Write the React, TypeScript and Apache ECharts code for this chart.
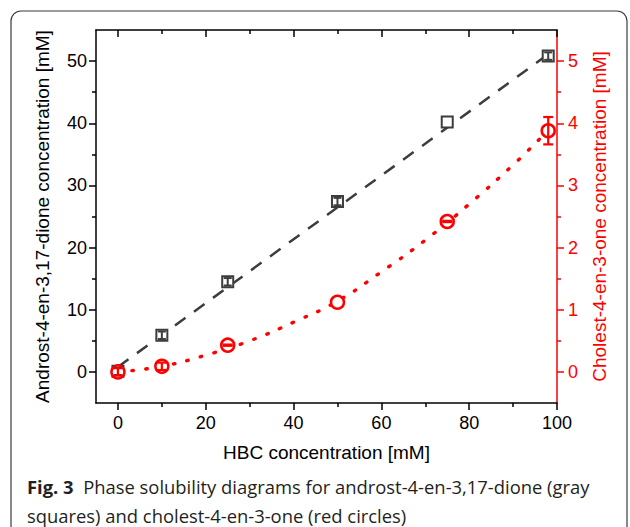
import React, { useEffect, useRef } from "react";
import * as echarts from "echarts";

// ---- data ----
const hbcConc = [0, 10, 25, 50, 75, 98];
const androstenedione = [0.1, 5.9, 14.5, 27.4, 40.2, 50.8];
const androstenedioneErr = [0.6, 0.6, 0.6, 0.6, 0, 0.6];
const cholestenone = [0.0, 0.09, 0.43, 1.12, 2.42, 3.88];
const cholestenoneErr = [0.06, 0.06, 0.01, 0, 0.01, 0.22];

const androFitX = [0, 98];
const androFitY = [0.8, 51.1];
const cholFitX = [0, 10, 20, 30, 40, 50, 60, 70, 80, 90, 96.5];
const cholFitY = [0, 0.09, 0.27, 0.5, 0.8, 1.14, 1.61, 2.12, 2.7, 3.33, 3.78];

const xMajorTicks = [0, 20, 40, 60, 80, 100];
const xMinorTicks = [10, 30, 50, 70, 90];
const yLeftMajorTicks = [0, 10, 20, 30, 40, 50];
const yLeftMinorTicks = [5, 15, 25, 35, 45];
const yRightMajorTicks = [0, 1, 2, 3, 4, 5];
const yRightMinorTicks = [0.5, 1.5, 2.5, 3.5, 4.5];

const RED = "#ff0000";
const GRAY = "#3d3d3d";
const SANS = "'Liberation Sans', Arial, sans-serif";
const CAPTION_FONT = "'Open Sans', 'Noto Sans', sans-serif";

export default function App() {
  const ref = useRef<HTMLDivElement>(null);

  useEffect(() => {
    if (!ref.current) return;
    const chart = echarts.init(ref.current, undefined, { renderer: "svg" });

    const tickAxisX = (position: string, values: number[], len: number, inside: boolean, showLine: boolean, color: string) => ({
      type: "value",
      position,
      min: -5,
      max: 100,
      axisLine: { show: showLine, onZero: false, lineStyle: { color, width: 1.5 } },
      axisTick: { show: true, inside, length: len, customValues: values, lineStyle: { color, width: 1.5 } },
      axisLabel: { show: false },
      splitLine: { show: false },
    });

    const tickAxisY = (position: string, min: number, max: number, values: number[], len: number, color: string, showLine: boolean) => ({
      type: "value",
      position,
      min,
      max,
      axisLine: { show: showLine, onZero: false, lineStyle: { color, width: 1.5 } },
      axisTick: { show: true, inside: false, length: len, customValues: values, lineStyle: { color, width: 1.5 } },
      axisLabel: { show: false },
      splitLine: { show: false },
    });

    const errorBar = (color: string, halfCap: number, lw: number) => (params: any, api: any) => {
      const x = api.value(0);
      const y = api.value(1);
      const e = api.value(2);
      if (!e) return null;
      const top = api.coord([x, y + e]);
      const bot = api.coord([x, y - e]);
      const style = { stroke: color, lineWidth: lw };
      return {
        type: "group",
        children: [
          { type: "line", shape: { x1: top[0], y1: top[1], x2: bot[0], y2: bot[1] }, style },
          { type: "line", shape: { x1: top[0] - halfCap, y1: top[1], x2: top[0] + halfCap, y2: top[1] }, style },
          { type: "line", shape: { x1: bot[0] - halfCap, y1: bot[1], x2: bot[0] + halfCap, y2: bot[1] }, style },
        ],
      };
    };

    const option: any = {
      animation: false,
      backgroundColor: "#ffffff",
      grid: { left: 96, right: 73, top: 30, bottom: 124, containLabel: false },
      xAxis: [
        {
          type: "value",
          position: "bottom",
          min: -5,
          max: 100,
          name: "HBC concentration [mM]",
          nameLocation: "middle",
          nameGap: 40,
          nameTextStyle: { color: "#000", fontSize: 19, fontFamily: SANS },
          axisLine: { show: true, onZero: false, lineStyle: { color: "#000", width: 1.5 } },
          axisTick: { show: true, inside: false, length: 7, customValues: xMajorTicks, lineStyle: { color: "#000", width: 1.5 } },
          axisLabel: { show: true, customValues: xMajorTicks, margin: 11, color: "#000", fontSize: 18, fontFamily: SANS },
          splitLine: { show: false },
        },
        tickAxisX("bottom", xMinorTicks, 4, false, false, "#000"),
        tickAxisX("top", xMajorTicks, 7, true, true, "#000"),
        tickAxisX("top", xMinorTicks, 4, true, false, "#000"),
      ],
      yAxis: [
        {
          type: "value",
          position: "left",
          min: -5,
          max: 55,
          name: "Androst-4-en-3,17-dione concentration [mM]",
          nameLocation: "middle",
          nameGap: 44,
          nameTextStyle: { color: "#000", fontSize: 19, fontFamily: SANS },
          axisLine: { show: true, onZero: false, lineStyle: { color: "#000", width: 1.5 } },
          axisTick: { show: true, inside: false, length: 7, customValues: yLeftMajorTicks, lineStyle: { color: "#000", width: 1.5 } },
          axisLabel: { show: true, customValues: yLeftMajorTicks, margin: 9, color: "#000", fontSize: 18, fontFamily: SANS },
          splitLine: { show: false },
        },
        tickAxisY("left", -5, 55, yLeftMinorTicks, 4, "#000", false),
        {
          type: "value",
          position: "right",
          min: -0.5,
          max: 5.5,
          name: "Cholest-4-en-3-one concentration [mM]",
          nameLocation: "middle",
          nameGap: 33,
          nameTextStyle: { color: RED, fontSize: 19, fontFamily: SANS },
          axisLine: { show: true, onZero: false, lineStyle: { color: RED, width: 1.5 } },
          axisTick: { show: true, inside: false, length: 7, customValues: yRightMajorTicks, lineStyle: { color: RED, width: 1.5 } },
          axisLabel: { show: true, customValues: yRightMajorTicks, margin: 11, color: RED, fontSize: 18, fontFamily: SANS },
          splitLine: { show: false },
        },
        tickAxisY("right", -0.5, 5.5, yRightMinorTicks, 4, RED, false),
      ],
      series: [
        {
          type: "line",
          xAxisIndex: 0,
          yAxisIndex: 0,
          data: androFitX.map((x, i) => [x, androFitY[i]]),
          showSymbol: false,
          symbol: "none",
          lineStyle: { color: GRAY, width: 2.5, type: [13, 10.5] },
          z: 2,
        },
        {
          type: "line",
          xAxisIndex: 0,
          yAxisIndex: 2,
          data: cholFitX.map((x, i) => [x, cholFitY[i]]),
          smooth: true,
          showSymbol: false,
          symbol: "none",
          lineStyle: { color: RED, width: 3.4, type: [1.5, 12.5], cap: "round" },
          z: 2,
        },
        {
          type: "scatter",
          xAxisIndex: 0,
          yAxisIndex: 0,
          data: hbcConc.map((x, i) => [x, androstenedione[i]]),
          symbol: "rect",
          symbolSize: 11,
          itemStyle: { color: "#ffffff", borderColor: GRAY, borderWidth: 2, opacity: 1 },
          z: 3,
        },
        {
          type: "custom",
          xAxisIndex: 0,
          yAxisIndex: 0,
          data: hbcConc.map((x, i) => [x, androstenedione[i], androstenedioneErr[i]]),
          encode: { x: 0, y: 1 },
          renderItem: errorBar(GRAY, 4, 2),
          z: 4,
        },
        {
          type: "scatter",
          xAxisIndex: 0,
          yAxisIndex: 2,
          data: hbcConc.map((x, i) => [x, cholestenone[i]]),
          symbol: "circle",
          symbolSize: 13,
          itemStyle: { color: "#ffffff", borderColor: RED, borderWidth: 2.5, opacity: 1 },
          z: 3,
        },
        {
          type: "custom",
          xAxisIndex: 0,
          yAxisIndex: 2,
          data: hbcConc.map((x, i) => [x, cholestenone[i], cholestenoneErr[i]]),
          encode: { x: 0, y: 1 },
          renderItem: errorBar(RED, 5, 2.2),
          z: 4,
        },
      ],
      graphic: [
        {
          type: "rect",
          shape: { x: 11, y: 11, width: 616, height: 600, r: 10 },
          style: { fill: "none", stroke: "#3a3a3a", lineWidth: 1.2 },
          silent: true,
        },
        {
          type: "text",
          x: 27,
          y: 486,
          style: {
            text: "{b|Fig. 3}  Phase solubility diagrams for androst-4-en-3,17-dione (gray",
            fontFamily: CAPTION_FONT,
            fontSize: 18.4,
            fill: "#231f20",
            verticalAlign: "middle",
            rich: { b: { fontWeight: "bold", fontFamily: CAPTION_FONT, fontSize: 18.4, fill: "#231f20" } },
          },
        },
        {
          type: "text",
          x: 27,
          y: 515,
          style: {
            text: "squares) and cholest-4-en-3-one (red circles)",
            fontFamily: CAPTION_FONT,
            fontSize: 18.4,
            fill: "#231f20",
            verticalAlign: "middle",
          },
        },
      ],
    };

    chart.setOption(option);
    return () => chart.dispose();
  }, []);

  return <div ref={ref} style={{ width: 630, height: 527, position: "absolute", left: 0, top: 0 }} />;
}
